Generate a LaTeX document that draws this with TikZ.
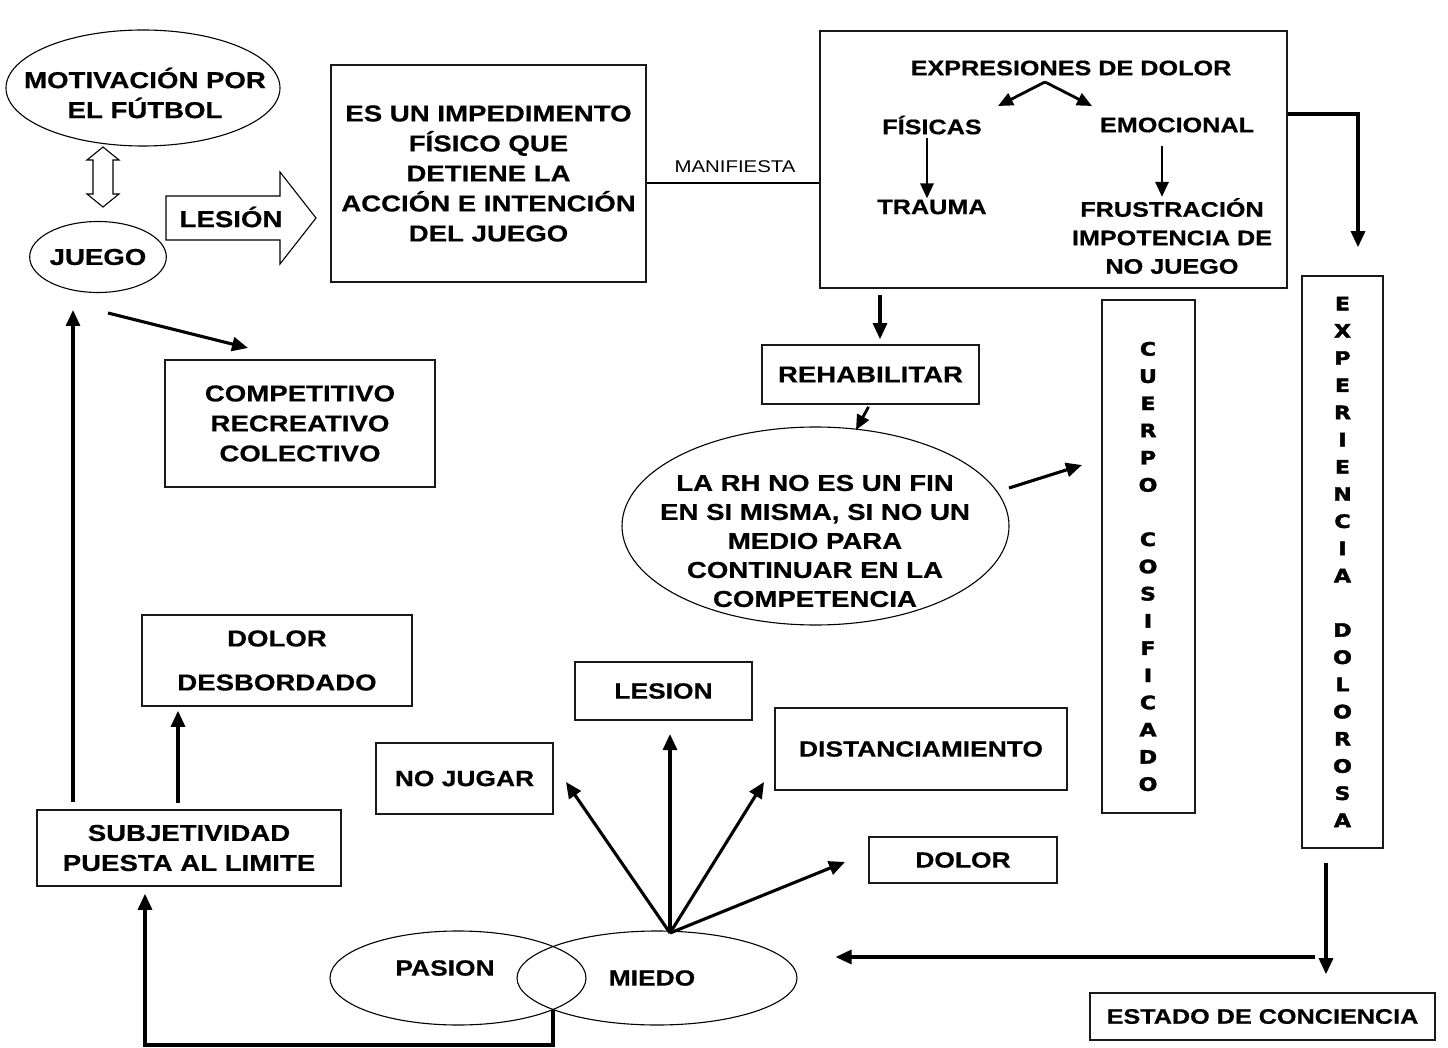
\documentclass[tikz,border=0pt]{standalone}
\usepackage{fontspec}
\setmainfont{Liberation Sans}
\newfontfamily\cop[FakeStretch=1.2,FakeBold=0.6]{Liberation Sans Bold}
\newfontfamily\vlet[FakeStretch=1.2,FakeBold=2]{DejaVu Sans Bold}
\newfontfamily\reg[FakeStretch=1.2]{Liberation Sans}
\usetikzlibrary{arrows.meta,shapes.geometric}
\begin{document}
\begin{tikzpicture}[x=1pt,y=-1pt,
  box/.style={draw=black!90,line width=1.6pt,inner sep=0pt,align=center,font=\cop\fontsize{23}{30}\selectfont},
  ell/.style={draw,ellipse,line width=1.1pt,inner sep=0pt,align=center,font=\cop\fontsize{23}{30}\selectfont},
  txt/.style={inner sep=1pt,align=center,font=\cop\fontsize{23}{30}\selectfont},
  stxt/.style={inner sep=1pt,align=center,font=\cop\fontsize{21}{28.5}\selectfont},
  vtxt/.style={inner sep=0pt,align=center,font=\vlet\fontsize{18.5}{27.2}\selectfont},
  arr/.style={line width=3.1pt,-{Triangle[length=16pt,width=14pt]}},
  sarr/.style={line width=2.8pt,-{Triangle[length=15pt,width=13pt]}},
  ln/.style={line width=2.6pt},
  outl/.style={draw,line width=1.1pt,line join=miter}
]
\useasboundingbox[fill=white] (0,0) rectangle (1448,1048);

% --- left column
\node[ell,minimum width=274pt,minimum height=116pt] (mot) at (143,88) {};
\node[txt] (mottxt) at (145,93) {MOTIVACIÓN POR\\EL FÚTBOL};
\node[ell,minimum width=127pt,minimum height=71pt] (juego) at (98,257) {JUEGO};
% hollow double arrow between mot and juego
\draw[outl] (103,147) -- (119,160) -- (113,160) -- (113,194) -- (119,194) -- (103,207)
  -- (87,194) -- (93,194) -- (93,160) -- (87,160) -- cycle;
% LESION block arrow
\draw[outl] (166,196) -- (280,196) -- (280,172) -- (316,218) -- (280,264) -- (280,240) -- (166,240) -- cycle;
\node[txt] (lesarr) at (231,217) {LESIÓN};

\node[box,minimum width=315pt,minimum height=217pt] (imp) at (488.5,173.5)
  {ES UN IMPEDIMENTO\\FÍSICO QUE\\DETIENE LA\\ACCIÓN E INTENCIÓN\\DEL JUEGO};

\node[box,minimum width=270pt,minimum height=127pt] (comp) at (300,423.5) {COMPETITIVO\\RECREATIVO\\COLECTIVO};
\node[box,minimum width=270pt,minimum height=91pt,font=\cop\fontsize{23}{44}\selectfont] (dd) at (277,660.5) {DOLOR\\DESBORDADO};
\node[box,minimum width=304pt,minimum height=76pt] (subj) at (189,848) {SUBJETIVIDAD\\PUESTA AL LIMITE};

% --- manifiesta
\node[box,minimum width=467pt,minimum height=257pt] (big) at (1053.5,159.5) {};
\coordinate (mline) at (735,183);
\draw[ln] (imp.east|-mline) -- (big.west|-mline);
\node[inner sep=0pt,font=\reg\fontsize{17}{20}\selectfont] (manif) at (735,167) {MANIFIESTA};

% --- inside big box
\node[stxt] (ex) at (1071,68) {EXPRESIONES DE DOLOR};
\node[stxt] (fis) at (932,125) {FÍSICAS};
\node[stxt] (emo) at (1177,125) {EMOCIONAL};
\node[stxt] (tra) at (932,207) {TRAUMA};
\node[stxt] (fru) at (1172,236) {FRUSTRACIÓN\\IMPOTENCIA DE\\NO JUEGO};
\coordinate (exs) at (1045,82);
\coordinate (exl) at (998,106);
\coordinate (exr) at (1092,106);
\draw[sarr] (exs) -- (exl);
\draw[sarr] (exs) -- (exr);
\coordinate (fx) at (927,0);
\coordinate (ex2) at (1162,0);
\draw[sarr] (fis.south-|fx) ++(0,2) -- (tra.north-|fx);
\draw[sarr,shorten <=12pt] (emo.south-|ex2) -- (fru.north-|ex2);

% --- right column
\node[box,minimum width=81pt,minimum height=572pt,font=\vlet\fontsize{18.5}{27.2}\selectfont] (exp) at (1342.5,562)
  {E\\X\\P\\E\\R\\I\\E\\N\\C\\I\\A\\[27.2pt]D\\O\\L\\O\\R\\O\\S\\A};
\node[box,minimum width=93pt,minimum height=513pt] (cuerpo) at (1148.5,556.5) {};
\node[vtxt] (cuerpotxt) at (1148,566.5) {C\\U\\E\\R\\P\\O\\[27.2pt]C\\O\\S\\I\\F\\I\\C\\A\\D\\O};
\coordinate (bx) at (1358,114);
\draw[arr,shorten >=28pt] (big.east|-bx) -- (bx) -- (bx|-exp.north);

\node[box,minimum width=345pt,minimum height=47pt,font=\cop\fontsize{21}{28}\selectfont] (estado) at (1262.5,1016.5) {ESTADO DE CONCIENCIA};
\coordinate (ex3) at (1326,0);
\draw[arr,shorten <=14pt,shorten >=18pt] (exp.south-|ex3) -- (estado.north-|ex3);

% --- middle
\node[box,minimum width=217pt,minimum height=59pt] (reh) at (870.5,374.5) {REHABILITAR};
\coordinate (rx) at (880,0);
\draw[arr,shorten <=6pt,shorten >=5pt] (big.south-|rx) -- (reh.north-|rx);
\node[ell,minimum width=387pt,minimum height=198pt] (rh) at (815.5,526) {};
\node[txt,font=\cop\fontsize{23}{29}\selectfont] (rhtxt) at (815,541)
  {LA RH NO ES UN FIN\\EN SI MISMA, SI NO UN\\MEDIO PARA\\CONTINUAR EN LA\\COMPETENCIA};
\coordinate (rht) at (856,430);
\draw[sarr] ([xshift=-2pt,yshift=-2pt]reh.south) -- (rht);
\coordinate (rhs) at (1009,488);
\coordinate (cut) at (1082,465);
\draw[arr] (rhs) -- (cut);

% --- juego relations
\coordinate (js) at (108,313);
\coordinate (jt) at (248,348);
\draw[arr] (js) -- (jt);
\coordinate (jx) at (73,310);
\draw[arr,shorten <=7pt] (subj.north-|jx) -- (jx);
\coordinate (dx) at (178,0);
\draw[arr,shorten <=6pt,shorten >=4pt] (subj.north-|dx) -- (dd.south-|dx);

% --- fear fan
\node[box,minimum width=177pt,minimum height=71pt,font=\cop\fontsize{22}{28}\selectfont] (nojugar) at (464.5,778.5) {NO\,\,JUGAR};
\node[box,minimum width=177pt,minimum height=58pt,font=\cop\fontsize{22}{28}\selectfont] (lesion) at (663.5,691) {LESION};
\node[box,minimum width=292pt,minimum height=82pt,font=\cop\fontsize{22}{28}\selectfont] (dist) at (921,749) {DISTANCIAMIENTO};
\node[box,minimum width=188pt,minimum height=46pt,font=\cop\fontsize{22}{28}\selectfont] (dolor) at (963,860) {DOLOR};

\node[ell,minimum width=256pt,minimum height=94pt] (pasion) at (458,978) {};
\node[ell,minimum width=280pt,minimum height=94pt] (miedo) at (657,978) {};
\node[txt,font=\cop\fontsize{22}{28}\selectfont] (pasiontxt) at (445,968) {PASION};
\node[txt,font=\cop\fontsize{22}{28}\selectfont] (miedotxt) at (652,978) {MIEDO};

\coordinate (fan) at (670,933);
\coordinate (tnj) at (566,782);
\coordinate (tle) at (670,734);
\coordinate (tdi) at (764,782);
\coordinate (tdo) at (845,862);
\draw[arr] (fan) -- (tnj);
\draw[arr] (fan) -- (tle);
\draw[arr] (fan) -- (tdi);
\draw[arr] (fan) -- (tdo);

\coordinate (hs) at (1315,957);
\draw[arr,shorten >=38pt] (hs) -- (miedo.east|-hs);

\coordinate (ix) at (553,1010);
\coordinate (bl) at (145,1045);
\draw[arr,shorten >=7pt] (ix) |- (bl) -- (bl|-subj.south);
\end{tikzpicture}
\end{document}
